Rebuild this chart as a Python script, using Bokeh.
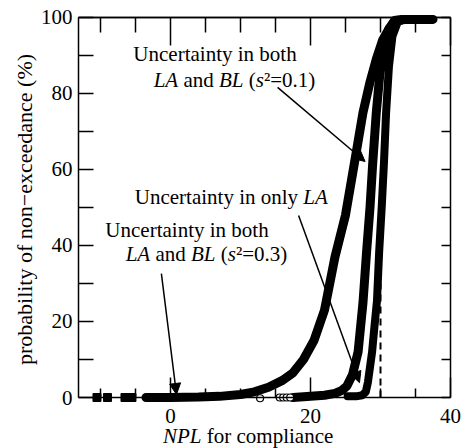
import math
from bokeh.plotting import figure
from bokeh.models import (FixedTicker, LinearAxis, Range1d, Label, Arrow,
                          NormalHead, ColumnDataSource)
from bokeh.embed import file_html
from bokeh.resources import INLINE

# ---------------- data ----------------
# Uncertainty in both LA and BL (s^2 = 0.3)
a_x = [-3.5, 0, 4, 7, 10, 12, 14, 16, 17.5, 19, 20.5, 22, 23.5, 25, 26.3, 27.5,
       28.5, 29.4, 30.3, 31.2, 32.2, 33.5, 35, 37.5]
a_y = [0, 0, 0.1, 0.3, 0.8, 1.5, 2.7, 4.5, 6.5, 10, 15, 23, 37, 48, 62, 75,
       83, 89, 94, 97, 99, 99.5, 99.5, 99.5]
a_sq_x = [-10.5, -9.0, -6.5, -5.5]
a_sq_y = [0, 0, 0, 0]

# Uncertainty in both LA and BL (s^2 = 0.1)
b_x = [17.5, 20, 22, 23.5, 24.5, 25.2, 26, 26.8, 27.5, 28, 28.5, 28.9, 29.4,
       29.9, 30.5, 31.2, 32, 33]
b_y = [0, 0.3, 0.6, 1.1, 1.9, 3, 6, 12, 25, 38, 50, 62, 75, 85, 92, 97, 99.2, 99.5]
b_circ_x = [12.8, 15.6, 16.1, 16.6, 17.1]
b_circ_y = [-0.2, 0, 0, 0, 0]

# Uncertainty in only LA
c_x = [25.3, 26.5, 27.4, 27.9, 28.2, 28.5, 28.8, 29.1, 29.5, 29.8, 30.2, 30.5,
       30.8, 31.2, 31.7, 32.5, 33.5]
c_y = [0.3, 0.3, 0.6, 1.5, 4, 8, 12, 18, 25.5, 38, 51, 62, 75, 87, 95, 99, 99.5]

# compliance threshold (dashed)
thr_x = [30, 30]
thr_y = [0, 30]

# annotation arrows (start -> tip)
arr_x0 = [15.3, 18.3, -1.3]
arr_y0 = [81.6, 47.9, 32.6]
arr_x1 = [27.8, 27.0, 0.86]
arr_y1 = [62.1, 3.9, 0.8]

x_major = [0, 20, 40]
x_minor = [-10, -5, 5, 10, 15, 25, 30, 35]
y_major = [0, 20, 40, 60, 80, 100]
y_minor = [10, 30, 50, 70, 90]

X0, X1 = -13.14, 40
Y0, Y1 = 0, 100

FONT = "Liberation Serif"
FS = 21
LBL_SHIFT = 6  # screen px lift for text labels

# frame covers the whole canvas; the plot box is drawn by axes at fixed locations
p = figure(width=461, height=448, x_range=Range1d(-24.28, 41.57), y_range=Range1d(-13.42, 104.47),
           output_backend="svg", toolbar_location=None,
           min_border_left=0, min_border_right=0, min_border_top=0, min_border_bottom=0)
p.xgrid.visible = False
p.ygrid.visible = False
p.outline_line_color = None
p.background_fill_color = "white"
p.border_fill_color = "white"


def style_axis(ax, maj, mino, labels=True):
    ax.axis_line_width = 1.5
    ax.axis_line_color = "black"
    ax.major_tick_line_width = 1.5
    ax.minor_tick_line_width = 1.5
    ax.major_tick_line_color = "black"
    ax.minor_tick_line_color = "black"
    ax.major_tick_in = maj
    ax.major_tick_out = 0
    ax.minor_tick_in = mino
    ax.minor_tick_out = 0
    if labels:
        ax.major_label_text_font = FONT
        ax.major_label_text_font_size = f"{FS}px"
        ax.major_label_text_color = "black"
    else:
        ax.major_label_standoff = 0


xa = p.xaxis[0]
xa.ticker = FixedTicker(ticks=x_major, minor_ticks=x_minor)
style_axis(xa, 20, 9)
xa.fixed_location = Y0
xa.bounds = (X0, X1)
xa.major_label_standoff = 11

ya = p.yaxis[0]
ya.ticker = FixedTicker(ticks=y_major, minor_ticks=y_minor)
style_axis(ya, 15, 15)
ya.fixed_location = X0
ya.bounds = (Y0, Y1)
ya.major_label_standoff = 6

# top: two tick lengths, no labels
top1 = LinearAxis(ticker=FixedTicker(ticks=[], minor_ticks=x_major), fixed_location=Y1,
                  bounds=(X0, X1))
style_axis(top1, 0, 28, labels=False)
p.add_layout(top1, "above")
top2 = LinearAxis(ticker=FixedTicker(ticks=[], minor_ticks=x_minor), fixed_location=Y1,
                  bounds=(X0, X1))
style_axis(top2, 0, 15, labels=False)
p.add_layout(top2, "above")

right = LinearAxis(ticker=FixedTicker(ticks=[], minor_ticks=y_major + y_minor),
                   fixed_location=X1, bounds=(Y0, Y1))
style_axis(right, 0, 9, labels=False)
p.add_layout(right, "right")

# curves
p.line(thr_x, thr_y, line_dash="7 5", line_width=2, color="black")
p.line(a_x, a_y, line_width=9, color="black", line_cap="round", line_join="round")
p.scatter(a_sq_x, a_sq_y, marker="square", size=8, color="black")
p.line(b_x, b_y, line_width=9, color="black", line_cap="round", line_join="round")
p.line(c_x, c_y, line_width=8, color="black", line_cap="round", line_join="round")
p.scatter(b_circ_x, b_circ_y, marker="circle", size=7, fill_color="white",
          line_color="black", line_width=1.2)

# arrows
src = ColumnDataSource(dict(x0=arr_x0, y0=arr_y0, x1=arr_x1, y1=arr_y1))
p.add_layout(Arrow(end=NormalHead(size=11, fill_color="black", line_color="black", line_width=1),
                   x_start="x0", y_start="y0", x_end="x1", y_end="y1", source=src,
                   line_width=1.5, line_color="black"))

# text with mixed styles
W_R = {' ': .25, '(': .333, ')': .333, '=': .564, '.': .25, 'a': .444, 'b': .5, 'c': .444,
       'd': .5, 'e': .444, 'f': .333, 'h': .5, 'i': .278, 'l': .278, 'm': .778, 'n': .5,
       'o': .5, 'p': .5, 'r': .333, 't': .278, 'y': .5, 'U': .722, '\u00b2': .3}
W_I = {'L': .556, 'A': .611, 'B': .611, 's': .389, 'N': .667, 'P': .611, ' ': .25}


def tw(t, italic):
    d = W_I if italic else W_R
    return sum(d.get(ch, .5) for ch in t)


def seg_label(x, y, segs, size=FS):
    off = 0.0
    for t, it in segs:
        lead = len(t) - len(t.lstrip(' '))
        s = t.strip(' ')
        if s:
            p.add_layout(Label(x=x, y=y, x_offset=off + lead * .25 * size, y_offset=LBL_SHIFT,
                               text=s, text_font=FONT, text_font_size=f"{size}px",
                               text_font_style="italic" if it else "normal",
                               text_baseline="alphabetic", text_align="left",
                               text_color="black"))
        off += tw(t, it) * size
    return off


seg_label(-5.3, 88.7, [("Uncertainty in both", 0)])
seg_label(-2.4, 82.1, [("LA", 1), (" and ", 0), ("BL", 1), (" (", 0), ("s", 1),
                       ("\u00b2", 0), ("=0.1)", 0)])
seg_label(-5.1, 51.3, [("Uncertainty in only ", 0), ("LA", 1)])
seg_label(-9.3, 42.4, [("Uncertainty in both", 0)])
seg_label(-6.4, 36.3, [("LA", 1), (" and ", 0), ("BL", 1), (" (", 0), ("s", 1),
                       ("\u00b2", 0), ("=0.3)", 0)])

# axis titles
seg_label(-1.07, -11.6, [("NPL", 1), (" for compliance", 0)])
p.add_layout(Label(x=-20.86, y=49.47, angle=math.pi / 2,
                   text="probability of non\u2212exceedance (%)",
                   text_font=FONT, text_font_size="22px", text_align="center",
                   text_baseline="middle", text_color="black"))

open("out.html", "w").write(file_html(p, INLINE))
